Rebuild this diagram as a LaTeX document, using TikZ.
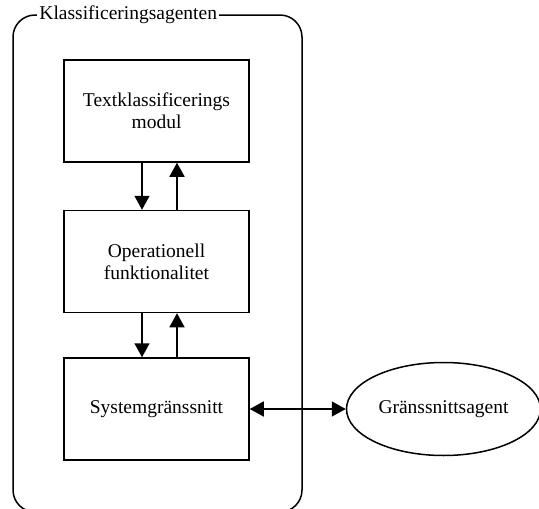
\documentclass[tikz,border=0pt]{standalone}
\usepackage{fontspec}
\setmainfont{Liberation Serif}
\usetikzlibrary{arrows.meta,positioning,shapes.geometric}
\tikzset{
    %Define standard arrow tip
    >={Triangle[length=14pt,width=15pt]},
    %Define style for boxes
    modbox/.style={
           draw,
           line width=1.5pt,
           minimum width=185pt,
           minimum height=102pt,
           align=center,
           font=\fontsize{19.5}{22}\selectfont,},
    agentell/.style={
           draw,
           ellipse,
           line width=1.5pt,
           minimum width=194pt,
           minimum height=93pt,
           font=\fontsize{19.5}{22}\selectfont,},
    pil/.style={
           ->,
           line width=1.5pt,}
}
\begin{document}
\begin{tikzpicture}[x=1pt, y=1pt, node distance=45pt]
 \useasboundingbox (0,0) rectangle (539,-509);
 %container
 \node[draw, line width=1.5pt, rounded corners=22pt, minimum width=289pt, minimum height=497pt] (klass) at (157.5,-263.5) {};
 \node[fill=white, inner sep=2pt, anchor=west, font=\fontsize{19.5}{22}\selectfont] (klasstitle) at ([xshift=25pt]klass.north west) {Klassificeringsagenten};
 %nodes
 \node[modbox] (textmod) at (156.5,-111) {Textklassificerings\\modul};
 \node[modbox, below=47pt of textmod] (opfunk) {Operationell\\funktionalitet};
 \node[modbox, below=44pt of opfunk] (sysgrans) {Systemgränssnitt};
 \node[agentell, right=96pt of sysgrans] (gransagent) {Gränssnittsagent};

 \draw[pil] ([xshift=-14.5pt]textmod.south) -- ([xshift=-14.5pt]opfunk.north);
 \draw[pil] ([xshift=20.5pt]opfunk.north) -- ([xshift=20.5pt]textmod.south);
 \draw[pil] ([xshift=-14.5pt]opfunk.south) -- ([xshift=-14.5pt]sysgrans.north);
 \draw[pil] ([xshift=20.5pt]sysgrans.north) -- ([xshift=20.5pt]opfunk.south);
 \draw[pil, <->] (sysgrans) -- (gransagent);

\end{tikzpicture}
\end{document}
